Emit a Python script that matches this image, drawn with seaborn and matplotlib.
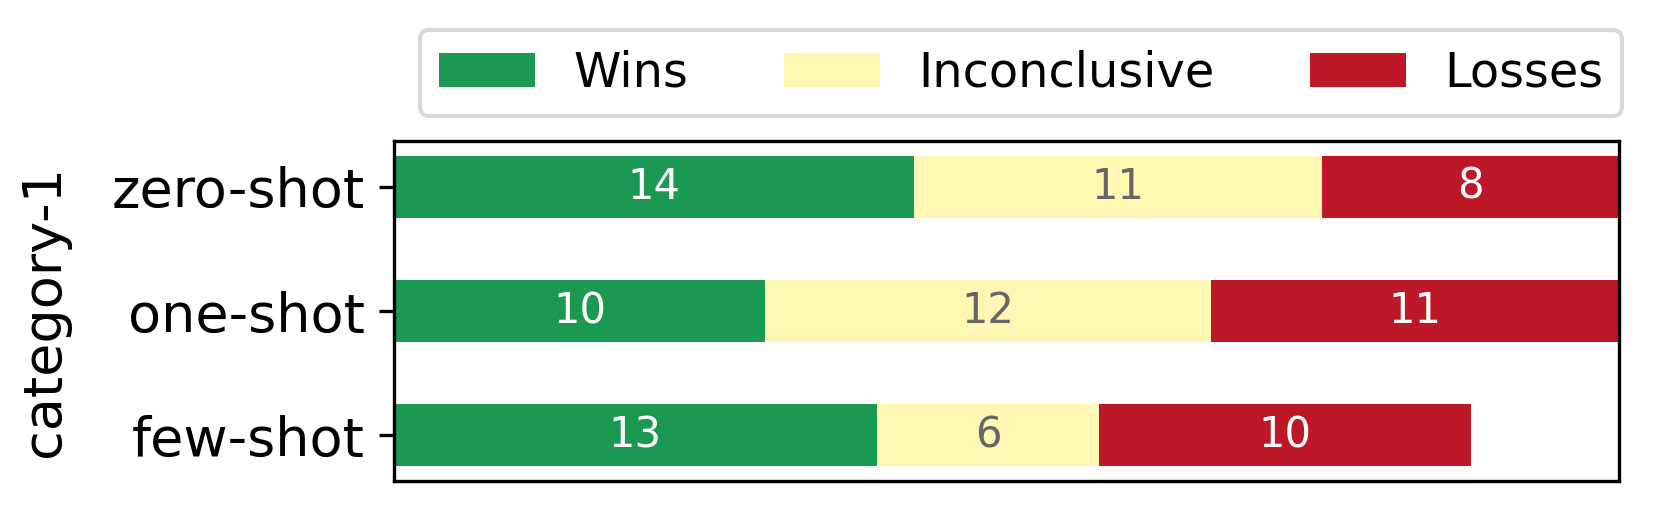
import matplotlib
matplotlib.use("Agg")
import matplotlib.pyplot as plt
import seaborn as sns
import numpy as np
import pandas as pd
from matplotlib.patches import Patch

categories = ["zero-shot", "one-shot", "few-shot"]
wins = [14, 10, 13]
inconclusive = [11, 12, 6]
losses = [8, 11, 10]
series_names = ["Wins", "Inconclusive", "Losses"]
colors = ["#1b9852", "#fff7b3", "#bd1827"]
label_colors = ["white", "#666666", "white"]

plt.rcParams['font.family'] = ['DejaVu Sans']

fig = plt.figure(figsize=(1659 / 300, 513 / 300), dpi=300)
ax = fig.add_axes([394 / 1659, 1 - 481 / 513, (1619 - 394) / 1659, (481 - 141) / 513])

vals = np.array([wins, inconclusive, losses], dtype=float)
cum = np.cumsum(vals, axis=0)
# draw from the longest cumulative bar to the shortest so the stack shows
for i in range(len(series_names) - 1, -1, -1):
    df = pd.DataFrame({"category": categories, "value": cum[i]})
    sns.barplot(data=df, x="value", y="category", order=categories, orient="h",
                color=colors[i], saturation=1, width=0.5, ax=ax, linewidth=0)

# segment labels
for i in range(len(series_names)):
    starts = cum[i] - vals[i]
    for j, cat in enumerate(categories):
        ax.text(starts[j] + vals[i][j] / 2, j, f"{int(vals[i][j])}",
                ha="center", va="center", color=label_colors[i], fontsize=10)

ax.set_xlim(0, cum[-1].max())
ax.set_ylim(len(categories) - 1 + 0.37, -0.37)
ax.set_xticks([])
ax.set_xlabel("")
ax.set_ylabel("category-1", fontsize=13, labelpad=10)
ax.tick_params(axis="y", labelsize=13)
for s in ax.spines.values():
    s.set_visible(True)
    s.set_color("black")
    s.set_linewidth(0.8)

handles = [Patch(facecolor=c, edgecolor="none") for c in colors]
fig.legend(handles, series_names, loc="center", ncol=3,
           bbox_to_anchor=(1021 / 1659, 1 - 73 / 513), fontsize=11.5,
           frameon=True, fancybox=True, edgecolor="#d0d0d0",
           handlelength=2.0, columnspacing=2.0)

fig.savefig("out.png", dpi=300)
